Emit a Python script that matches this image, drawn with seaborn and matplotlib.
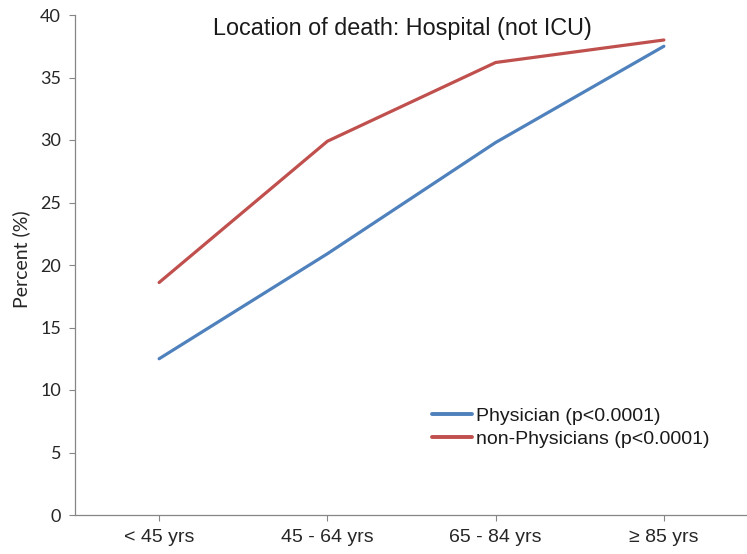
import matplotlib
matplotlib.use("Agg")
import matplotlib.pyplot as plt
import numpy as np
import pandas as pd
import seaborn as sns

# values
age_groups = ["< 45 yrs", "45 - 64 yrs", "65 - 84 yrs", "\u2265 85 yrs"]
physician = [12.5, 20.9, 29.8, 37.5]
non_physician = [18.6, 29.9, 36.2, 38.0]
series_names = ["Physician (p<0.0001)", "non-Physicians (p<0.0001)"]
y_ticks = [0, 5, 10, 15, 20, 25, 30, 35, 40]

df = pd.DataFrame({
    "age": age_groups * 2,
    "pct": physician + non_physician,
    "group": [series_names[0]] * 4 + [series_names[1]] * 4,
})

sns.set_theme(style="white")
plt.rcParams["font.family"] = ["Liberation Sans", "DejaVu Sans"]

fig = plt.figure(figsize=(7.47, 5.54), dpi=100)
ax = fig.add_axes([75 / 747, 1 - 515 / 554, 673 / 747, 500 / 554])

palette = {series_names[0]: "#4F81BD", series_names[1]: "#C0504D"}
sns.lineplot(data=df, x="age", y="pct", hue="group", palette=palette,
             linewidth=2.3, sort=False, ax=ax)

ax.set_xlim(-0.5, 3.5)
ax.set_ylim(0, 40)
ax.set_yticks(y_ticks)
ax.set_xlabel("")
ax.set_ylabel("Percent (%)", fontsize=14, family=["Lato", "DejaVu Sans"],
              color="#262626")
ax.yaxis.set_label_coords(30 / 747, 1 - 259 / 554, transform=fig.transFigure)
for lbl in ax.get_yticklabels():
    lbl.set_family(["Lato", "DejaVu Sans"])
ax.tick_params(axis="y", labelsize=13, length=4, width=0.8, color="#868686",
               direction="out", pad=6, labelcolor="#262626", left=True)
ax.tick_params(axis="x", labelsize=14, length=4, width=0.8, color="#868686",
               direction="out", pad=6, labelcolor="#262626", bottom=True)

for s in ["top", "right"]:
    ax.spines[s].set_visible(False)
for s in ["left", "bottom"]:
    ax.spines[s].set_color("#868686")
    ax.spines[s].set_linewidth(0.9)

fig.text(402 / 747, 1 - 35 / 554, "Location of death: Hospital (not ICU)",
         ha="center", va="baseline", fontsize=16.8, color="#1a1a1a")

leg = ax.legend(loc="center left", bbox_to_anchor=(432 / 747, 1 - 427.5 / 554),
                bbox_transform=fig.transFigure, frameon=False, fontsize=14,
                handlelength=2.05, handletextpad=0.2, labelspacing=0.25,
                borderpad=0, borderaxespad=0)
for line in leg.get_lines():
    line.set_linewidth(2.8)
for t in leg.get_texts():
    t.set_color("#1a1a1a")

fig.savefig("out.png", dpi=100)
